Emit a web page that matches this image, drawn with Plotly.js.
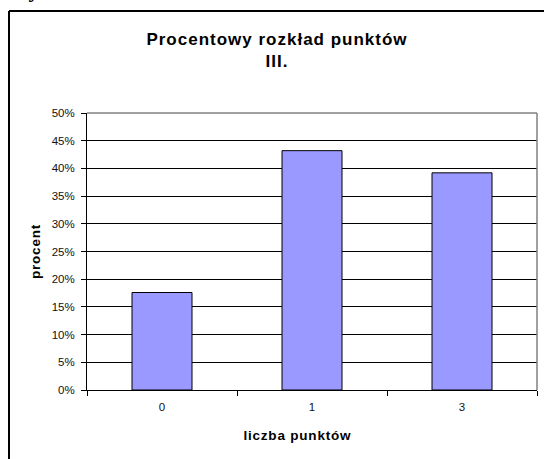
<!DOCTYPE html>
<html>
<head>
<meta charset="utf-8">
<script src="https://cdn.plot.ly/plotly-3.0.1.min.js"></script>
<style>
html,body{margin:0;padding:0;background:#fff;}
#chart{width:544px;height:459px;}
#chart .gtitle{letter-spacing:1px;}
#chart .ytitle{letter-spacing:0.8px;}
#chart .annotation-text{letter-spacing:0.8px;}
</style>
</head>
<body>
<div id="chart"></div>
<script>
const categories = ['0', '1', '3'];
const percentValues = [0.176, 0.432, 0.392];
const chartTitle = 'Procentowy rozkład punktów<br>III.';
const xTitle = 'liczba punktów';
const yTitle = 'procent';

const W = 544, H = 459;
const mL = 87, mR = 7, mT = 113, mB = 69;
const pw = W - mL - mR, ph = H - mT - mB;
const px = x => (x - mL) / pw;
const py = y => (H - mB - y) / ph;

const trace = {
  type: 'bar',
  x: categories,
  y: percentValues,
  marker: { color: '#9999FF', line: { color: '#000000', width: 1 } },
  hoverinfo: 'x+y'
};

const layout = {
  width: W, height: H,
  margin: { l: mL, r: mR, t: mT, b: mB, pad: 0 },
  paper_bgcolor: '#ffffff', plot_bgcolor: '#ffffff',
  showlegend: false,
  bargap: 0.6,
  font: { family: 'Arial, "Liberation Sans", sans-serif', color: '#000' },
  title: {
    text: chartTitle,
    font: { family: 'Arial, "Liberation Sans", sans-serif', size: 17, color: '#000', weight: 'bold' },
    xref: 'container', yref: 'container',
    x: 277 / W, xanchor: 'center',
    y: 1 - 45 / H, yanchor: 'top'
  },
  xaxis: {
    type: 'category',
    categoryorder: 'array', categoryarray: categories,
    tickson: 'boundaries',
    ticks: 'outside', ticklen: 5, tickcolor: '#000', tickwidth: 1,
    ticklabelstandoff: 6,
    showline: true, linecolor: '#000', linewidth: 1,
    showgrid: false, zeroline: false,
    tickfont: { size: 11.5, color: '#111' },
    fixedrange: true
  },
  yaxis: {
    range: [0, 0.5], dtick: 0.05, tickformat: '.0%',
    ticks: 'outside', ticklen: 5, tickcolor: '#000', tickwidth: 1,
    ticklabelstandoff: 4,
    showline: true, linecolor: '#000', linewidth: 1,
    showgrid: true, gridcolor: '#000', gridwidth: 1,
    zeroline: false,
    tickfont: { size: 11.5, color: '#111' },
    title: { text: yTitle, font: { size: 13.5, color: '#000', weight: 'bold' }, standoff: 7 },
    fixedrange: true
  },
  annotations: [
    {
      text: xTitle, showarrow: false,
      xref: 'paper', yref: 'paper',
      x: px(297), y: py(435), xanchor: 'center', yanchor: 'middle',
      font: { size: 13.5, color: '#000', weight: 'bold' }
    },
    {
      text: 'y', showarrow: false,
      xref: 'paper', yref: 'paper',
      x: px(34), y: py(3), xanchor: 'center', yanchor: 'bottom', borderpad: 0,
      font: { family: '"Liberation Serif", serif', size: 22, color: '#000', weight: 'bold' }
    }
  ],
  shapes: [
    { type: 'line', xref: 'paper', yref: 'paper', x0: 0, x1: 1, y0: 1, y1: 1, line: { color: '#808080', width: 1.5 }, layer: 'above' },
    { type: 'line', xref: 'paper', yref: 'paper', x0: 1, x1: 1, y0: 0, y1: 1, line: { color: '#808080', width: 1.5 }, layer: 'above' },
    { type: 'line', xref: 'paper', yref: 'paper', x0: px(9), x1: px(9), y0: py(470), y1: py(11), line: { color: '#000', width: 2 } },
    { type: 'line', xref: 'paper', yref: 'paper', x0: px(9), x1: px(560), y0: py(11), y1: py(11), line: { color: '#000', width: 2 } }
  ]
};

Plotly.newPlot('chart', [trace], layout, { displayModeBar: false, staticPlot: true });
</script>
</body>
</html>
